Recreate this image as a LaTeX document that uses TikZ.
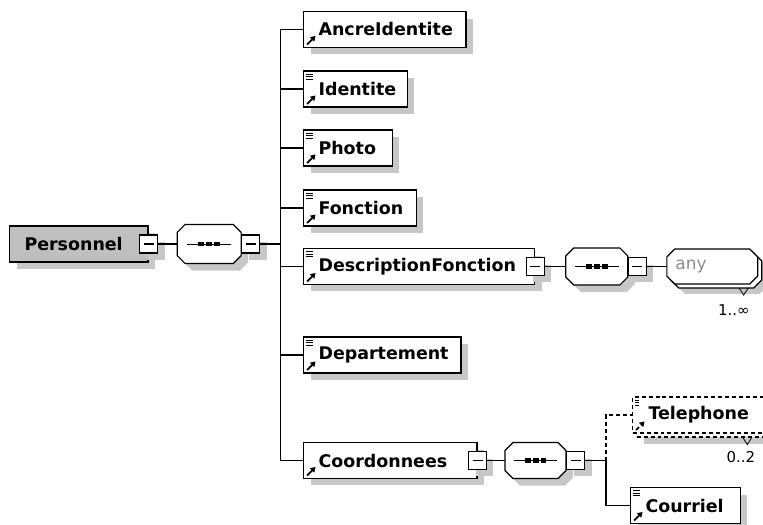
\documentclass[tikz,border=0pt]{standalone}
\usepackage{fontspec}
\setmainfont{DejaVu Sans}
\usetikzlibrary{positioning,shadows,arrows.meta}
\newcommand\elemfont{\fontsize{17.5}{20}\selectfont\bfseries}
\newcommand\multfont{\fontsize{15}{18}\selectfont}
\newcommand\docmark{%
  \foreach \ypos in {3,5.7,8.4}
    \draw[line width=0.9pt] ([shift={(2.5pt,-\ypos pt)}]path picture bounding box.north west) -- ++(7pt,0pt);}
\newcommand\refmark{%
  \draw[line width=1.8pt,-{Triangle[length=5pt,width=6pt]}] ([shift={(3.5pt,3pt)}]path picture bounding box.south west) -- ++(8.5pt,8.5pt);}
\newcommand\minusmark{%
  \draw[line width=1.1pt] ([xshift=-5pt]path picture bounding box.center) -- ([xshift=5pt]path picture bounding box.center);}
\newcommand\octagon[2][boxshadow]{%
  \draw[fill=white,#1] ([xshift=8pt]#2.north west) -- ([xshift=-8pt]#2.north east)
    -- ([yshift=-8pt]#2.north east) -- ([yshift=8pt]#2.south east)
    -- ([xshift=-8pt]#2.south east) -- ([xshift=8pt]#2.south west)
    -- ([yshift=8pt]#2.south west) -- ([yshift=-8pt]#2.north west) -- cycle;}
\newcommand\seqmark[1]{%
  \draw[line width=1pt] ([xshift=-22pt]#1.center) -- ([xshift=22pt]#1.center);
  \foreach \sx in {-8,0,8}
    \fill ([xshift=\sx pt]#1.center) +(-3pt,-2.5pt) rectangle +(3pt,2.5pt);}
\begin{document}
\begin{tikzpicture}[x=1bp,y=-1bp,line width=1.2pt,
    boxshadow/.style={drop shadow={shadow xshift=7pt,shadow yshift=-7pt,fill=black!22,opacity=1}},
    multishadow/.style={drop shadow={shadow xshift=10pt,shadow yshift=-10pt,fill=black!22,opacity=1},
      copy shadow={shadow xshift=4pt,shadow yshift=-4pt}},
    elembase/.style={draw,fill=white,rectangle,minimum height=36pt,inner xsep=15pt,inner ysep=0pt,
      text width=#1,align=left,anchor=west,font=\elemfont},
    elem/.style={elembase=#1,boxshadow},
    docelem/.style={elem=#1,path picture={\docmark\refmark}},
    refelem/.style={elem=#1,path picture={\refmark}},
    minusbox/.style={draw,fill=white,boxshadow,minimum size=18pt,inner sep=0pt,path picture={\minusmark}},
    seqbox/.style={rectangle,minimum width=#1,minimum height=37pt,inner sep=0pt,anchor=west},
    anytext/.style={text width=74pt,inner xsep=8pt,inner ysep=0pt,align=left,anchor=west,
      font=\fontsize{17}{20}\selectfont,text=black!45},
    opt/.style={dash pattern=on 4pt off 3pt},
    mult/.style={font=\multfont,inner sep=0pt,anchor=north east}]
  \path[use as bounding box,clip] (0,0) rectangle (763,525);

  \node[elem=109pt,fill=black!25] (personnel) at (9,244) {Personnel};
  \node[minusbox] (pmin) at (personnel.east) {};
  \node[seqbox=63pt,minimum height=38pt,right=19pt of pmin] (seq1) {};
  \octagon{seq1}
  \seqmark{seq1}
  \node[minusbox,right=0pt of seq1] (seq1min) {};
  \coordinate[right=20pt of seq1min] (fork1);

  \node[refelem=133pt] (ancre) at (303,29.5) {AncreIdentite};
  \node[docelem=74pt] (identite) at (303,89) {Identite};
  \node[docelem=59pt] (photo) at (303,148) {Photo};
  \node[docelem=83pt] (fonction) at (303,208) {Fonction};
  \node[docelem=202pt] (descfonction) at (303,266.5) {DescriptionFonction};
  \node[docelem=128pt] (departement) at (303,355) {Departement};
  \node[refelem=144pt] (coord) at (303,460.5) {Coordonnees};

  \node[minusbox] (descmin) at (descfonction.east) {};
  \node[seqbox=61pt,minimum height=36pt,right=21pt of descmin] (seq2) {};
  \octagon{seq2}
  \seqmark{seq2}
  \node[minusbox,right=0pt of seq2] (seq2min) {};
  \node[seqbox=90pt,minimum height=34pt,right=20pt of seq2min] (anyframe) {};
  \octagon[multishadow]{anyframe}
  \node[anytext] (any) at (anyframe.west) {any};
  \draw[line width=0.8pt] ([shift={(27pt,-4pt)}]anyframe.south) -- ++(4.5,7) -- ++(4.5,-7);
  \node[mult] (anymult) at ([shift={(38pt,-20pt)}]anyframe.south) {1..∞};

  \node[minusbox] (coordmin) at (coord.east) {};
  \node[seqbox=60pt,minimum height=35pt,right=18pt of coordmin] (seq3) {};
  \octagon{seq3}
  \seqmark{seq3}
  \node[minusbox,right=0pt of seq3] (seq3min) {};
  \coordinate[right=21pt of seq3min] (fork3);
  \node[elembase=100pt,inner xsep=16pt,opt,path picture={\docmark\refmark},
    drop shadow={shadow xshift=11pt,shadow yshift=-11pt,fill=black!22,opacity=1},
    copy shadow={shadow xshift=4pt,shadow yshift=-4pt}] (telephone) at (632,415) {Telephone};
  \node[mult] (telmult) at ([shift={(-9pt,-17pt)}]telephone.south east) {0..2};
  \draw[line width=0.8pt] ([shift={(-22pt,-4pt)}]telephone.south east) -- ++(4.5,7) -- ++(4.5,-7);
  \node[docelem=80pt] (courriel) at (630,505.5) {Courriel};

  \draw (pmin) -- (seq1);
  \draw (seq1min) -- (fork1);
  \foreach \e in {ancre,identite,photo,fonction,descfonction,departement,coord}
    \draw (fork1) |- (\e.west);
  \draw (descmin) -- (seq2);
  \draw (seq2min) -- (anyframe);
  \draw (coordmin) -- (seq3);
  \draw (seq3min) -- (fork3);
  \draw[opt] (fork3) |- (telephone.west);
  \draw (fork3) |- (courriel.west);
\end{tikzpicture}
\end{document}
